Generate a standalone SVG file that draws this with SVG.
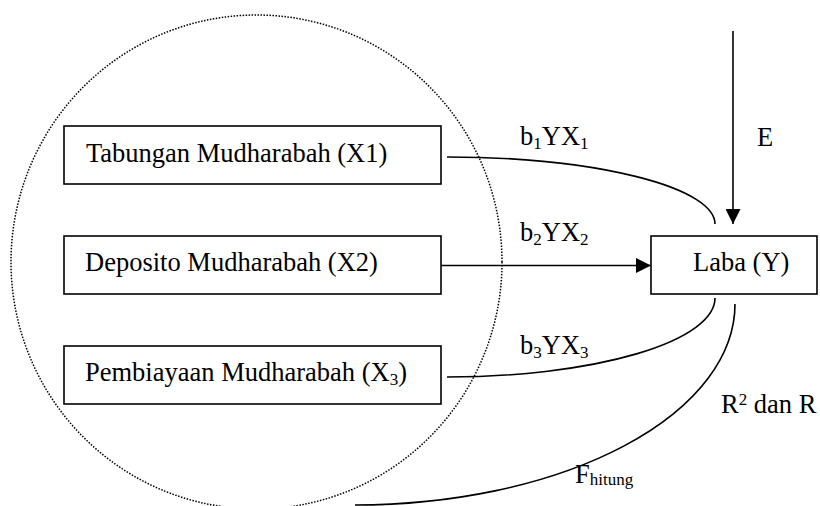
<svg xmlns="http://www.w3.org/2000/svg" width="820" height="506" viewBox="0 0 820 506">
  <style>
    text { font-family: "Liberation Serif", "Times New Roman", serif; font-size: 26.5px; fill: #000; }
    .sub { font-size: 17px; }
    .box { fill: #fff; stroke: #000; stroke-width: 1.6; }
    .conn { fill: none; stroke: #000; stroke-width: 1.6; }
    .dots { fill: none; stroke: #000; stroke-width: 1.5; stroke-dasharray: 1.5 1.5; }
  </style>
  <defs>
    <marker id="arrow" markerWidth="16" markerHeight="15" refX="15" refY="7.5" orient="auto" markerUnits="userSpaceOnUse">
      <path d="M0,0 L15,7.5 L0,15 Z" fill="#000"/>
    </marker>
  </defs>
  <rect width="820" height="506" fill="#fff"/>

  <g id="group-circle">
    <ellipse class="dots" cx="256.5" cy="262" rx="245.5" ry="247"/>
  </g>

  <g id="connectors">
    <path class="conn" d="M447,157 A268,67 0 0 1 715,224"/>
    <path class="conn" d="M441,265.5 L651,265.5" marker-end="url(#arrow)"/>
    <path class="conn" d="M447,377 A268,79 0 0 0 715,298"/>
    <path class="conn" d="M735,304 A380,201 0 0 1 355,505"/>
    <path class="conn" d="M733,31 L733,224" marker-end="url(#arrow)"/>
  </g>

  <g id="x1">
    <rect class="box" x="64" y="126" width="377" height="58"/>
    <text x="86" y="162">Tabungan Mudharabah (X1)</text>
  </g>
  <g id="x2">
    <rect class="box" x="64" y="236" width="377" height="58"/>
    <text x="85" y="271">Deposito Mudharabah (X2)</text>
  </g>
  <g id="x3">
    <rect class="box" x="64" y="346" width="377" height="58"/>
    <text x="85" y="381">Pembiayaan Mudharabah (X<tspan class="sub" dy="4">3</tspan><tspan dy="-4">)</tspan></text>
  </g>
  <g id="y">
    <rect class="box" x="651" y="236" width="166" height="58"/>
    <text x="693" y="271">Laba (Y)</text>
  </g>

  <g id="labels">
    <text x="520" y="145">b<tspan class="sub" dy="4">1</tspan><tspan dy="-4">YX</tspan><tspan class="sub" dy="4">1</tspan></text>
    <text x="520" y="241">b<tspan class="sub" dy="4">2</tspan><tspan dy="-4">YX</tspan><tspan class="sub" dy="4">2</tspan></text>
    <text x="520" y="354">b<tspan class="sub" dy="4">3</tspan><tspan dy="-4">YX</tspan><tspan class="sub" dy="4">3</tspan></text>
    <text x="757" y="146">E</text>
    <text x="721" y="413">R<tspan class="sub" dy="-8">2</tspan><tspan dy="8"> dan R</tspan></text>
    <text x="575" y="483">F<tspan class="sub" dy="2">hitung</tspan></text>
  </g>
</svg>
